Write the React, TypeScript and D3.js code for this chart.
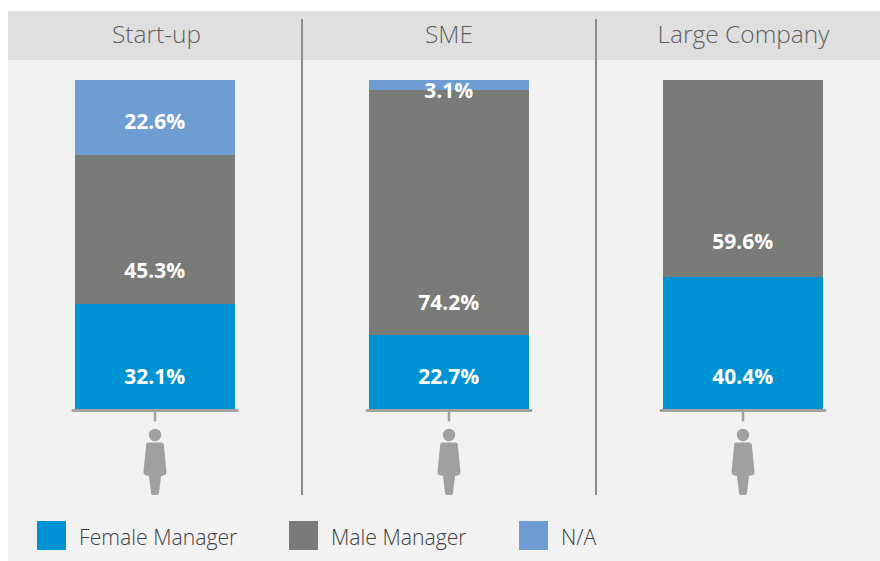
import React from "react";
import * as d3 from "d3";

const categories = ["Start-up", "SME", "Large Company"];
const seriesNames = ["Female Manager", "Male Manager", "N/A"];
const female = [32.1, 22.7, 40.4];
const male = [45.3, 74.2, 59.6];
const na = [22.6, 3.1, 0];
const labelAnchors = [
  [376.3, 270.3, 121.3],
  [376.3, 302.3, 90.3],
  [376.3, 241.3, null],
];
const titleCenters = [156.5, 449, 743.5];
const colors = ["#0093d3", "#797b77", "#6e9dd4"];
const legendX = [37, 289, 519];

const FONT = "'Open Sans', sans-serif";
const W = 880;
const H = 561;

const y = d3.scaleLinear().domain([0, 100]).range([410, 80]);

const rows = categories.map((c, i) => ({ cat: c, f: female[i], m: male[i], n: na[i] }));
const stacked = d3.stack<any>().keys(["f", "m", "n"])(rows);

const FIGURE =
  "M-8.5 8.5 Q-8.5 7.5 -6.5 7.5 L6.5 7.5 Q8.5 7.5 8.8 9.5 L11.5 37 Q11.5 40 8.5 40.5 L6 41 L4 58 Q3.8 60 2 60 L-2 60 Q-3.8 60 -4 58 L-6 41 L-8.5 40.5 Q-11.5 40 -11.5 37 L-8.8 9.5 Z";

export default function App() {
  const barW = 160;
  return (
    <svg
      width={W}
      height={H}
      viewBox={`0 0 ${W} ${H}`}
      style={{ position: "absolute", left: 0, top: 0, display: "block" }}
    >
      <rect x={8} y={11} width={872} height={550} fill="#f2f2f2" />
      <rect x={8} y={11} width={872} height={49} fill="#dfdfdf" />
      {categories.map((c, i) => {
        const cx = 155 + i * 294;
        return (
          <g key={c}>
            <text
              x={titleCenters[i]}
              y={43}
              textAnchor="middle"
              fontFamily={FONT}
              fontWeight={300}
              fontSize={24.5}
              fill="#5f5f5f"
            >
              {c}
            </text>
            {stacked.map((s, k) => {
              const d = s[i];
              const top = Math.round(y(d[1]));
              const h = Math.round(y(d[0])) - top;
              return h > 0 ? (
                <rect key={k} x={cx - barW / 2} y={top} width={barW} height={h} fill={colors[k]} />
              ) : null;
            })}
            {stacked.map((s, k) => {
              const v = s[i][1] - s[i][0];
              const ly = labelAnchors[i][k];
              return v > 0 && ly !== null ? (
                <text
                  key={k}
                  x={cx - 0.3}
                  y={ly}
                  dy="0.36em"
                  textAnchor="middle"
                  fontFamily={FONT}
                  fontWeight={700}
                  fontSize={21}
                  fill="#ffffff"
                >
                  {v.toFixed(1)}%
                </text>
              ) : null;
            })}
            <line x1={cx - 82} x2={cx + 82} y1={410.5} y2={410.5} stroke="#a2a3a0" strokeWidth={3} strokeLinecap="round" />
            <line x1={cx} x2={cx} y1={411} y2={421.5} stroke="#a2a3a0" strokeWidth={2.5} />
            <g transform={`translate(${cx},435)`}>
              <circle r={6.2} fill="#a0a19e" />
              <path d={FIGURE} fill="#a0a19e" />
            </g>
          </g>
        );
      })}
      {[302, 596].map((dx) => (
        <line key={dx} x1={dx} x2={dx} y1={19} y2={495} stroke="#8c8c88" strokeWidth={2} />
      ))}
      {seriesNames.map((n, i) => (
        <g key={n}>
          <rect x={legendX[i]} y={521} width={29} height={29} fill={colors[i]} />
          <text x={legendX[i] + 42} y={545} fontFamily={FONT} fontWeight={300} fontSize={21.2} fill="#3f3f3f">
            {n}
          </text>
        </g>
      ))}
    </svg>
  );
}
